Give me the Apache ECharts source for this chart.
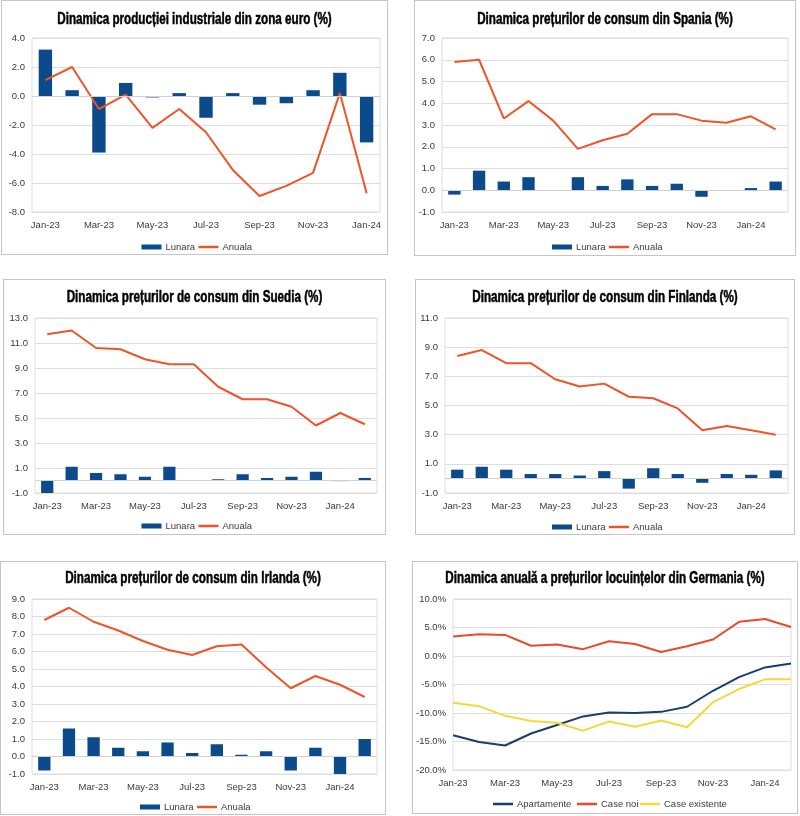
<!DOCTYPE html>
<html>
<head>
<meta charset="utf-8">
<script src="https://cdn.jsdelivr.net/npm/echarts@6/dist/echarts.min.js"></script>
<style>
html,body{margin:0;padding:0;background:#fff;width:800px;height:816px;overflow:hidden;}
.panel{position:absolute;box-sizing:border-box;border:1px solid #c4c4c4;background:#fff;}
.panel > div{position:absolute;left:0;top:0;right:0;bottom:0;}
</style>
</head>
<body>
<div class="panel" style="left:1px;top:0px;width:387px;height:255px;"><div id="c1"></div></div>
<div class="panel" style="left:414px;top:0px;width:382px;height:256px;"><div id="c2"></div></div>
<div class="panel" style="left:3px;top:279px;width:383px;height:256px;"><div id="c3"></div></div>
<div class="panel" style="left:415px;top:279px;width:380px;height:256px;"><div id="c4"></div></div>
<div class="panel" style="left:0px;top:561px;width:386px;height:254px;"><div id="c5"></div></div>
<div class="panel" style="left:412px;top:561px;width:386px;height:253px;"><div id="c6"></div></div>
<script>
// ---------- DATA ----------
const months13 = ['Jan-23','Feb-23','Mar-23','Apr-23','May-23','Jun-23','Jul-23','Aug-23','Sep-23','Oct-23','Nov-23','Dec-23','Jan-24'];
const months14 = ['Jan-23','Feb-23','Mar-23','Apr-23','May-23','Jun-23','Jul-23','Aug-23','Sep-23','Oct-23','Nov-23','Dec-23','Jan-24','Feb-24'];

const euroLunara = [3.2, 0.4, -3.9, 0.9, -0.1, 0.2, -1.5, 0.2, -0.6, -0.5, 0.4, 1.6, -3.2];
const euroAnuala = [1.1, 2.0, -0.9, 0.1, -2.2, -0.9, -2.5, -5.1, -6.9, -6.2, -5.3, 0.2, -6.7];

const spainLunara = [-0.2, 0.9, 0.4, 0.6, 0.0, 0.6, 0.2, 0.5, 0.2, 0.3, -0.3, 0.0, 0.1, 0.4];
const spainAnuala = [5.9, 6.0, 3.3, 4.1, 3.2, 1.9, 2.3, 2.6, 3.5, 3.5, 3.2, 3.1, 3.4, 2.8];

const swedenLunara = [-1.0, 1.1, 0.6, 0.5, 0.3, 1.1, 0.0, 0.1, 0.5, 0.2, 0.3, 0.7, -0.05, 0.2];
const swedenAnuala = [11.7, 12.0, 10.6, 10.5, 9.7, 9.3, 9.3, 7.5, 6.5, 6.5, 5.9, 4.4, 5.4, 4.5];

const finlandLunara = [0.6, 0.8, 0.6, 0.3, 0.3, 0.2, 0.5, -0.7, 0.7, 0.3, -0.3, 0.3, 0.25, 0.55];
const finlandAnuala = [8.4, 8.8, 7.9, 7.9, 6.8, 6.3, 6.5, 5.6, 5.5, 4.8, 3.3, 3.6, 3.3, 3.0];

const irelandLunara = [-0.8, 1.6, 1.1, 0.5, 0.3, 0.8, 0.2, 0.7, 0.1, 0.3, -0.8, 0.5, -1.0, 1.0];
const irelandAnuala = [7.8, 8.5, 7.7, 7.2, 6.6, 6.1, 5.8, 6.3, 6.4, 5.1, 3.9, 4.6, 4.1, 3.4];

const germanyApartamente = [-13.9, -15.1, -15.7, -13.6, -12.1, -10.6, -9.9, -10.0, -9.8, -8.9, -6.1, -3.7, -2.0, -1.3];
const germanyCaseNoi = [3.4, 3.8, 3.7, 1.8, 2.0, 1.2, 2.6, 2.1, 0.7, 1.7, 2.9, 6.0, 6.5, 5.1];
const germanyCaseExistente = [-8.2, -8.8, -10.5, -11.4, -11.7, -13.1, -11.5, -12.4, -11.3, -12.5, -8.1, -5.8, -4.1, -4.1];

// ---------- STYLE ----------
const BLUE = '#0b4a8b';
const ORANGE = '#ef5428';
const GRID = '#dedede';
const TXT = '#3a3a3a';
const LABEL_FONT = 'Liberation Sans, Arial, sans-serif';
const FS = 9.5;

function titleGraphic(text, w, cy) {
  return [{
    type: 'text', x: w / 2, y: cy, scaleX: 0.73, silent: true,
    style: {
      text: text, fill: '#000', stroke: '#000', lineWidth: 0.5,
      align: 'center', verticalAlign: 'middle',
      fontFamily: 'Liberation Sans, Arial, sans-serif', fontWeight: 'bold', fontSize: 16
    }
  }];
}
function legendOpt(name, left, top, iconH) {
  return {
    data: [name], left: left, top: top, icon: 'rect',
    itemWidth: 20, itemHeight: iconH, itemGap: 8, padding: 0,
    textStyle: { fontFamily: LABEL_FONT, fontSize: FS, color: TXT, padding: [0, 0, 0, -1] },
    selectedMode: false
  };
}
function yAxisOpt(min, max, interval, fmt) {
  return {
    type: 'value', min: min, max: max, interval: interval,
    axisLine: { show: false }, axisTick: { show: false },
    splitLine: { lineStyle: { color: GRID, width: 1 } },
    axisLabel: { fontFamily: LABEL_FONT, fontSize: FS, color: TXT, margin: 7, formatter: fmt }
  };
}
function xAxisOpt(cats, boundaryGap) {
  return {
    type: 'category', data: cats, boundaryGap: boundaryGap,
    axisLine: { show: false }, axisTick: { show: false },
    axisLabel: { interval: 1, fontFamily: LABEL_FONT, fontSize: FS, color: TXT, margin: 8 }
  };
}

function barLineChart(id, title, cats, lunara, anuala, yMin, yMax, yInt, grid, titleY, legendTop) {
  const chart = echarts.init(document.getElementById(id), null, { renderer: 'canvas' });
  const w = chart.getWidth();
  const c = w / 2;
  chart.setOption({
    animation: false,
    graphic: titleGraphic(title, w, titleY),
    legend: [
      legendOpt('Lunara', c - 53, legendTop, 5),
      legendOpt('Anuala', c + 4, legendTop, 2.5)
    ],
    grid: Object.assign({ show: true, borderColor: GRID, borderWidth: 1 }, grid),
    xAxis: xAxisOpt(cats, true),
    yAxis: yAxisOpt(yMin, yMax, yInt, v => v.toFixed(1)),
    series: [
      {
        name: 'Lunara', type: 'bar', data: lunara, barWidth: '50%',
        itemStyle: { color: BLUE },
        markLine: {
          silent: true, symbol: 'none', label: { show: false },
          lineStyle: { color: '#d0d0d0', type: 'solid', width: 1 },
          data: [{ yAxis: 0 }]
        }
      },
      {
        name: 'Anuala', type: 'line', data: anuala, symbol: 'none',
        lineStyle: { color: ORANGE, width: 2 }, itemStyle: { color: ORANGE }, z: 3
      }
    ]
  });
}

barLineChart('c1', 'Dinamica producției industriale din zona euro (%)', months13, euroLunara, euroAnuala,
  -8, 4, 2, { left: 30, right: 7, top: 37, bottom: 42 }, 18.5, 241);
barLineChart('c2', 'Dinamica prețurilor de consum din Spania (%)', months14, spainLunara, spainAnuala,
  -1, 7, 1, { left: 27, right: 7, top: 37, bottom: 43 }, 18.5, 241);
barLineChart('c3', 'Dinamica prețurilor de consum din Suedia (%)', months14, swedenLunara, swedenAnuala,
  -1, 13, 2, { left: 31, right: 8, top: 38, bottom: 41 }, 18, 241);
barLineChart('c4', 'Dinamica prețurilor de consum din Finlanda (%)', months14, finlandLunara, finlandAnuala,
  -1, 11, 2, { left: 29, right: 6, top: 38, bottom: 41 }, 18, 242);
barLineChart('c5', 'Dinamica prețurilor de consum din Irlanda (%)', months14, irelandLunara, irelandAnuala,
  -1, 9, 1, { left: 31, right: 8, top: 37, bottom: 40 }, 16.5, 240);

(function () {
  const chart = echarts.init(document.getElementById('c6'), null, { renderer: 'canvas' });
  const w = chart.getWidth();
  const c = w / 2;
  chart.setOption({
    animation: false,
    graphic: titleGraphic('Dinamica anuală a prețurilor locuințelor din Germania (%)', w, 16.5),
    legend: [
      legendOpt('Apartamente', c - 112, 237, 2.5),
      legendOpt('Case noi', c - 28, 237, 2.5),
      legendOpt('Case existente', c + 35, 237, 2.5)
    ],
    grid: { show: true, borderColor: GRID, borderWidth: 1, left: 39, right: 6, top: 37, bottom: 43 },
    xAxis: xAxisOpt(months14, false),
    yAxis: yAxisOpt(-20, 10, 5, v => v.toFixed(1) + '%'),
    series: [
      { name: 'Apartamente', type: 'line', data: germanyApartamente, symbol: 'none',
        lineStyle: { color: '#173f6e', width: 2 }, itemStyle: { color: '#173f6e' } },
      { name: 'Case noi', type: 'line', data: germanyCaseNoi, symbol: 'none',
        lineStyle: { color: '#e94a2a', width: 2 }, itemStyle: { color: '#e94a2a' } },
      { name: 'Case existente', type: 'line', data: germanyCaseExistente, symbol: 'none',
        lineStyle: { color: '#f5d83a', width: 2 }, itemStyle: { color: '#f5d83a' } }
    ]
  });
})();
</script>
</body>
</html>
